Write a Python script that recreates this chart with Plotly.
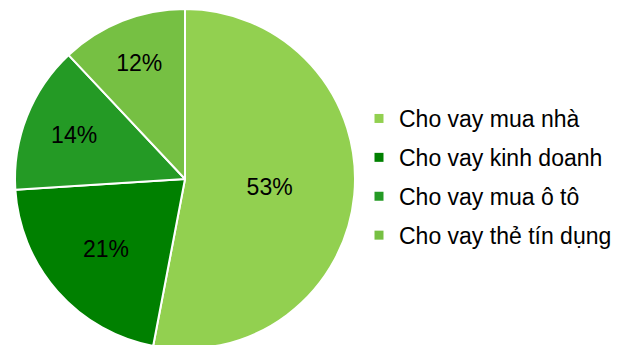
import plotly.graph_objects as go

labels = ["Cho vay mua nhà", "Cho vay kinh doanh", "Cho vay mua ô tô", "Cho vay thẻ tín dụng"]
values = [53, 21, 14, 12]
colors = ["#92D050", "#008000", "#249A25", "#76C043"]

W, H = 631, 358
FONT = "Liberation Sans, Arial, sans-serif"

fig = go.Figure()
fig.add_trace(go.Pie(
    labels=labels, values=values, sort=False, direction="clockwise", rotation=0,
    marker=dict(colors=colors, line=dict(color="white", width=2)),
    textinfo="percent", textposition="inside", insidetextorientation="horizontal",
    texttemplate="%{percent:.0%}",
    textfont=dict(family=FONT, size=23, color="black"),
    domain=dict(x=[15 / W, 355 / W], y=[0, 1]),
    showlegend=False, hoverinfo="label+percent",
))
for lab, col in zip(labels, colors):
    fig.add_trace(go.Scatter(
        x=[None], y=[None], mode="markers", name=lab, legendgroup=lab,
        marker=dict(symbol="square", size=9, color=col),
    ))

fig.update_layout(
    width=W, height=H, margin=dict(l=0, r=0, t=0, b=0),
    paper_bgcolor="white", plot_bgcolor="white",
    xaxis=dict(visible=False), yaxis=dict(visible=False),
    legend=dict(x=359 / W, xanchor="left", y=1 - 177 / H, yanchor="middle",
                font=dict(family=FONT, size=23, color="black"),
                tracegroupgap=6, bgcolor="rgba(0,0,0,0)"),
)
fig.write_html("out.html", post_script="document.body.style.margin='0';document.body.style.overflow='hidden';")
